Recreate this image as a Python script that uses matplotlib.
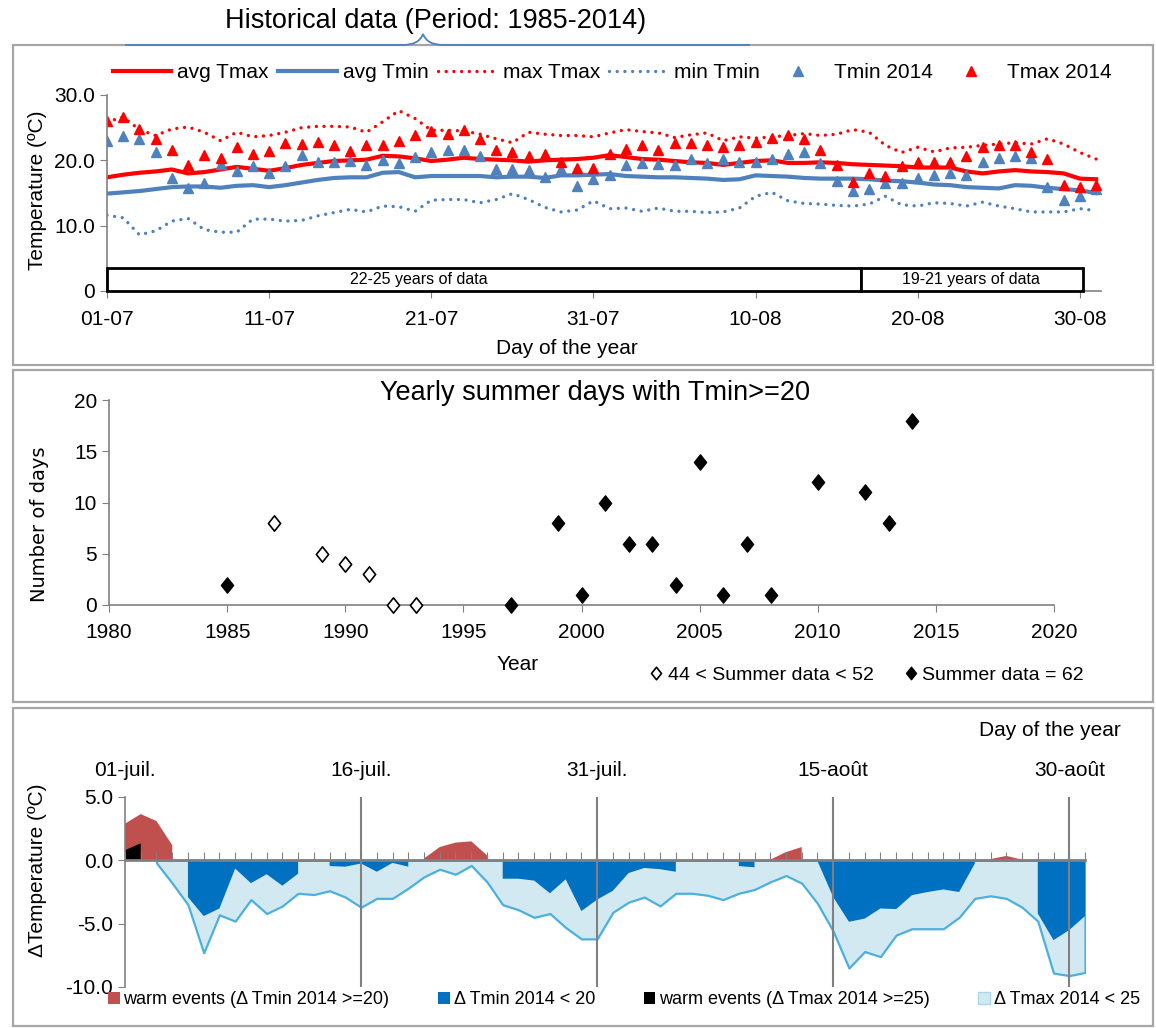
import numpy as np
import matplotlib
matplotlib.use('Agg')
import matplotlib.pyplot as plt
from matplotlib.patches import Rectangle, Patch, PathPatch
from matplotlib.path import Path
from matplotlib.lines import Line2D

plt.rcParams['font.family'] = ['Liberation Sans', 'DejaVu Sans']

# ---------------- data: top panel (days since 1 July) ----------------
days = np.arange(62)
top_tick_days = [0, 10, 20, 30, 40, 50, 60]
top_tick_labels = ['01-07', '11-07', '21-07', '31-07', '10-08', '20-08', '30-08']

avg_tmax = [17.4, 17.8, 18.1, 18.3, 18.6, 18.0, 18.2, 18.6, 19.0, 18.7,
            18.4, 18.8, 19.3, 19.6, 19.9, 20.0, 20.1, 20.7, 20.6, 20.3,
            19.9, 20.1, 20.4, 20.2, 20.1, 20.0, 19.8, 20.0, 20.1, 20.2,
            20.4, 20.8, 20.5, 20.2, 20.1, 19.9, 19.7, 19.6, 19.3, 19.6,
            19.9, 20.0, 19.6, 19.6, 19.7, 19.6, 19.4, 19.3, 19.2, 19.1,
            18.9, 18.9, 18.9, 18.3, 18.0, 18.3, 18.5, 18.3, 18.2, 18.0,
            17.2, 17.1]
avg_tmin = [14.9, 15.1, 15.3, 15.6, 15.9, 16.0, 16.0, 15.8, 16.1, 16.2,
            15.9, 16.2, 16.6, 17.0, 17.3, 17.4, 17.4, 18.1, 18.2, 17.4,
            17.6, 17.6, 17.6, 17.6, 17.4, 17.5, 17.5, 17.3, 17.7, 17.7,
            17.8, 17.9, 17.6, 17.5, 17.4, 17.4, 17.3, 17.2, 17.0, 17.1,
            17.7, 17.6, 17.5, 17.3, 17.2, 17.2, 17.2, 17.1, 16.9, 16.8,
            16.6, 16.3, 16.2, 15.9, 15.8, 15.7, 16.2, 16.1, 15.8, 15.6,
            15.4, 15.0]
max_tmax = [25.9, 26.6, 24.7, 23.8, 24.8, 25.1, 24.3, 23.0, 24.3, 23.6,
            23.8, 24.3, 25.0, 25.2, 25.2, 25.1, 24.3, 25.9, 27.6, 26.4,
            24.6, 24.6, 24.5, 24.0, 23.3, 22.7, 24.3, 24.0, 23.8, 23.8,
            23.6, 24.2, 24.7, 24.4, 24.2, 23.5, 23.9, 24.2, 23.0, 23.6,
            23.4, 23.6, 23.8, 24.1, 23.8, 24.0, 24.7, 24.3, 22.3, 21.2,
            22.0, 21.3, 21.9, 22.0, 22.3, 22.5, 22.7, 22.5, 23.3, 22.5,
            21.2, 20.2]
min_tmin = [11.6, 11.2, 8.6, 9.2, 10.7, 11.1, 9.4, 9.0, 9.0, 11.0,
            11.0, 10.7, 10.8, 11.5, 12.0, 12.5, 12.1, 13.0, 12.9, 12.2,
            13.9, 14.0, 14.0, 13.5, 14.0, 14.9, 14.0, 12.8, 12.1, 12.4,
            13.8, 12.6, 12.7, 12.2, 12.7, 12.2, 12.2, 12.0, 12.1, 12.7,
            14.5, 15.1, 13.8, 13.4, 13.3, 13.1, 13.0, 13.3, 14.5, 13.2,
            13.0, 13.5, 13.4, 13.0, 13.6, 13.0, 12.6, 12.1, 12.1, 12.1,
            12.6, 12.3]
tmin_2014 = [23.0, 23.8, 23.2, 21.3, 17.3, 15.7, 16.5, 19.5, 18.4, 19.2,
             18.1, 19.2, 20.8, 19.7, 19.7, 19.9, 19.3, 20.1, 19.6, 20.5,
             21.2, 21.6, 21.6, 20.6, 18.7, 18.7, 18.5, 17.5, 18.7, 16.1,
             17.1, 17.8, 19.3, 19.6, 19.5, 19.3, 20.2, 19.6, 20.2, 19.8,
             19.7, 20.2, 21.0, 21.3, 19.6, 16.9, 15.3, 15.6, 16.5, 16.5,
             17.3, 17.7, 18.0, 17.8, 19.8, 20.3, 20.6, 20.3, 15.9, 13.9,
             14.5, 15.6]
tmax_2014 = [26.0, 26.6, 24.8, 23.3, 21.6, 19.3, 20.8, 20.4, 22.1, 21.0,
             21.5, 22.7, 22.5, 22.8, 22.3, 21.5, 22.3, 22.3, 22.9, 23.9,
             24.5, 24.1, 24.7, 23.3, 21.6, 21.2, 20.7, 20.9, 19.7, 18.9,
             18.9, 21.0, 21.7, 22.3, 21.6, 22.7, 22.7, 22.4, 22.0, 22.4,
             22.8, 23.4, 23.9, 23.3, 21.6, 19.3, 16.7, 18.0, 17.6, 19.2,
             19.8, 19.7, 19.7, 20.7, 22.1, 22.3, 22.3, 21.3, 20.2, 16.2,
             15.9, 16.2]
coverage_start = [0, 46.5]
coverage_end = [46.5, 60.2]
coverage_text = ['22-25 years of data', '19-21 years of data']
coverage_text_x = [19.2, 53.3]

# ---------------- data: middle panel ----------------
years_partial = [1987, 1989, 1990, 1991, 1992, 1993]
count_partial = [8, 5, 4, 3, 0, 0]
years_full = [1985, 1997, 1999, 2000, 2001, 2002, 2003, 2004, 2005, 2006,
              2007, 2008, 2010, 2012, 2013, 2014]
count_full = [2, 0, 8, 1, 10, 6, 6, 2, 14, 1, 6, 1, 12, 11, 8, 18]

# ---------------- data: bottom panel ----------------
nan = np.nan
bot_tick_days = [0, 15, 30, 45, 60]
bot_tick_labels = ['01-juil.', '16-juil.', '31-juil.', '15-août', '30-août']
d_tmax_low = [nan, nan, -0.2, -1.8, -3.5, -7.3, -4.3, -4.8, -3.1, -4.2,
              -3.6, -2.6, -2.7, -2.4, -2.9, -3.7, -3.0, -3.0, -2.2, -1.3,
              -0.7, -1.1, -0.4, -1.7, -3.5, -3.9, -4.5, -4.2, -5.3, -6.2,
              -6.2, -4.1, -3.3, -2.9, -3.6, -2.6, -2.6, -2.75, -3.1, -2.6,
              -2.3, -1.7, -1.2, -1.8, -3.4, -5.6, -8.5, -7.2, -7.6, -5.9,
              -5.4, -5.4, -5.4, -4.5, -3.0, -2.8, -3.0, -3.7, -4.8, -8.9,
              -9.1, -8.85]
d_tmin_low = [nan, nan, nan, nan, -2.9, -4.4, -3.8, -0.65, -1.8, -1.1,
              -2.0, -1.05, nan, -0.45, -0.5, -0.25, -0.9, -0.2, -0.5, nan,
              nan, nan, nan, nan, -1.45, -1.45, -1.6, -2.6, -1.5, -4.0,
              -3.1, -2.4, -1.0, -0.6, -0.7, -0.9, nan, nan, nan, -0.45,
              -0.55, nan, nan, nan, -0.05, -2.9, -4.85, -4.6, -3.8, -3.85,
              -2.75, -2.5, -2.3, -2.5, -0.25, nan, nan, nan, -4.2, -6.3,
              -5.5, -4.4]
d_tmin_warm = [2.9, 3.65, 3.1, 1.2, nan, nan, nan, nan, nan, nan,
               nan, nan, nan, nan, nan, nan, nan, nan, nan, 0.15,
               1.05, 1.4, 1.5, 0.4, nan, nan, nan, nan, nan, nan,
               nan, nan, nan, nan, nan, nan, nan, nan, nan, nan,
               nan, 0.05, 0.65, 1.05, nan, nan, nan, nan, nan, nan,
               nan, nan, nan, nan, nan, 0.1, 0.35, 0.05, nan, nan,
               nan, nan]
d_tmax_warm = [0.8, 1.35] + [nan] * 60

# ---------------- figure ----------------
W, H = 1156, 1028
fig = plt.figure(figsize=(W / 100, H / 100), dpi=100)


def fx(px):
    return px / W


def fy(py):
    return 1 - py / H


GRAY = '#808080'
BOX = '#A6A6A6'
RED = '#FF0000'
BLUE = '#4F81BD'

# panel frames
for (x0, y0, x1, y1) in [(13, 45, 1153, 365), (13, 370, 1153, 702), (13, 708, 1153, 1026)]:
    fig.add_artist(Rectangle((fx(x0), fy(y1)), fx(x1) - fx(x0), fy(y0) - fy(y1),
                             transform=fig.transFigure, fill=False,
                             edgecolor=BOX, lw=1.6))

# brace under top title
bv = [(125, 45), (403, 45), (419, 45), (423, 34), (427, 45), (443, 45), (750, 45)]
bc = [Path.MOVETO, Path.LINETO, Path.CURVE3, Path.CURVE3, Path.CURVE3, Path.CURVE3, Path.LINETO]
fig.add_artist(PathPatch(Path([(fx(a), fy(b)) for a, b in bv], bc),
                         transform=fig.transFigure, fill=False,
                         edgecolor=BLUE, lw=1.3, zorder=5))
fig.text(fx(436), fy(21), 'Historical data (Period: 1985-2014)', ha='center',
         va='center', fontsize=19.5)

# ---- top panel ----
ax1 = fig.add_axes([fx(107), fy(291), fx(1101) - fx(107), (291 - 95) / H])
ax1.plot(days, avg_tmax, color=RED, lw=3, label='avg Tmax')
ax1.plot(days, avg_tmin, color=BLUE, lw=3, label='avg Tmin')
ax1.plot(days, max_tmax, color=RED, lw=2.4, ls=(0, (0.01, 2.3)),
         dash_capstyle='round', label='max Tmax')
ax1.plot(days, min_tmin, color=BLUE, lw=2.4, ls=(0, (0.01, 2.3)),
         dash_capstyle='round', label='min Tmin')
ax1.plot(days, tmin_2014, ls='none', marker='^', color=BLUE, ms=7, label='Tmin 2014')
ax1.plot(days, tmax_2014, ls='none', marker='^', color=RED, ms=7, label='Tmax 2014')
for s, e, t, tx in zip(coverage_start, coverage_end, coverage_text, coverage_text_x):
    ax1.add_patch(Rectangle((s, 0), e - s, 3.5, facecolor='white',
                            edgecolor='black', lw=2, zorder=3, clip_on=False))
    ax1.text(tx, 1.75, t, ha='center', va='center', fontsize=11.5, zorder=4)
ax1.set_xlim(0, 61.3)
ax1.set_ylim(0, 30)
ax1.set_yticks([0, 10, 20, 30], labels=['0', '10.0', '20.0', '30.0'])
ax1.set_xticks(top_tick_days, labels=top_tick_labels)
for sp in ['top', 'right']:
    ax1.spines[sp].set_visible(False)
for sp in ['left', 'bottom']:
    ax1.spines[sp].set_color(GRAY)
    ax1.spines[sp].set_linewidth(1.2)
ax1.tick_params(axis='both', colors=GRAY, labelcolor='black', labelsize=15, length=5)
ax1.tick_params(axis='x', pad=9)
fig.text(fx(567), fy(348), 'Day of the year', ha='center', va='center', fontsize=15)
fig.text(fx(38), fy(190), 'Temperature (ºC)', ha='center', va='center',
         rotation=90, fontsize=15)
fig.legend(*ax1.get_legend_handles_labels(), loc='center',
           bbox_to_anchor=(fx(612), fy(73)), ncol=6, frameon=False,
           fontsize=15, handlelength=2.8, handletextpad=0.3, columnspacing=0.45,
           numpoints=1)

# ---- middle panel ----
diamond = Path([(0, 1), (0.8, 0), (0, -1), (-0.8, 0), (0, 1)],
               [Path.MOVETO, Path.LINETO, Path.LINETO, Path.LINETO, Path.CLOSEPOLY])
ax2 = fig.add_axes([fx(109), fy(605), fx(1054) - fx(109), (605 - 400) / H])
ax2.plot(years_partial, count_partial, ls='none', marker=diamond, ms=11,
         mfc='white', mec='black', mew=1.2, clip_on=False, zorder=3)
ax2.plot(years_full, count_full, ls='none', marker=diamond, ms=11,
         mfc='black', mec='black', clip_on=False, zorder=3)
ax2.set_xlim(1980, 2020)
ax2.set_ylim(0, 20)
ax2.set_xticks(range(1980, 2021, 5))
ax2.set_yticks(range(0, 21, 5))
for sp in ['top', 'right']:
    ax2.spines[sp].set_visible(False)
for sp in ['left', 'bottom']:
    ax2.spines[sp].set_color(GRAY)
    ax2.spines[sp].set_linewidth(1.2)
ax2.tick_params(axis='both', colors=GRAY, labelcolor='black', labelsize=15, length=5)
ax2.tick_params(axis='x', pad=8)
for lab in ax2.get_xticklabels() + ax2.get_yticklabels():
    lab.set_fontfamily(['Liberation Sans Narrow', 'Liberation Sans'])
fig.text(fx(595), fy(393), 'Yearly summer days with Tmin>=20', ha='center',
         va='center', fontsize=19.5)
fig.text(fx(518), fy(665), 'Year', ha='center', va='center', fontsize=15,
         family=['Liberation Sans Narrow', 'Liberation Sans'])
fig.text(fx(40), fy(524), 'Number of days', ha='center', va='center',
         rotation=90, fontsize=14, family=['DejaVu Sans'])
mid_handles = [Line2D([], [], ls='none', marker=diamond, ms=9, mfc='white', mec='black', mew=1.2),
               Line2D([], [], ls='none', marker=diamond, ms=9, mfc='black', mec='black')]
fig.legend(mid_handles, ['44 < Summer data < 52', 'Summer data = 62'],
           loc='center', bbox_to_anchor=(fx(867), fy(675)), ncol=2,
           frameon=False, fontsize=14, handlelength=0.6, handletextpad=0.3,
           columnspacing=1.6)

# ---- bottom panel ----
ax3 = fig.add_axes([fx(125), fy(987), fx(1085) - fx(125), (987 - 797) / H])
LIGHT = '#D3E9F1'
LIGHT_EDGE = '#4BB0DD'
DARK = '#0070C0'
WARM = '#C0504D'
ax3.fill_between(days, 0, d_tmax_low, facecolor=LIGHT, edgecolor=LIGHT_EDGE,
                 lw=1.6, zorder=1)
ax3.fill_between(days, 0, d_tmin_low, facecolor=DARK, edgecolor='none', lw=0, zorder=1.2)
ax3.fill_between(days, 0, d_tmin_warm, facecolor=WARM, edgecolor='none', lw=0, zorder=1.3)
ax3.fill_between(days, 0, d_tmax_warm, facecolor='black', edgecolor='none', lw=0, zorder=1.4)
for d in bot_tick_days[1:]:
    ax3.axvline(d, color=GRAY, lw=1.5, zorder=2)
ax3.set_xlim(0, 61)
ax3.set_ylim(-10, 5)
ax3.set_yticks([-10, -5, 0, 5], labels=['-10.0', '-5.0', '0.0', '5.0'])
ax3.set_xticks(days)
ax3.spines['bottom'].set_position(('data', 0))
for sp in ['top', 'right']:
    ax3.spines[sp].set_visible(False)
for sp in ['left', 'bottom']:
    ax3.spines[sp].set_color(GRAY)
    ax3.spines[sp].set_linewidth(2)
ax3.spines['left'].set_linewidth(1.2)
ax3.tick_params(axis='x', direction='in', length=6, colors=GRAY, labelbottom=False)
ax3.tick_params(axis='y', colors=GRAY, labelcolor='black', labelsize=15, length=5)
sec = ax3.secondary_xaxis('top')
sec.set_xticks(bot_tick_days, labels=bot_tick_labels)
sec.tick_params(length=0, pad=12, labelsize=15)
sec.spines['top'].set_visible(False)
fig.text(fx(1050), fy(730), 'Day of the year', ha='center', va='center', fontsize=15)
fig.text(fx(38), fy(870), 'ΔTemperature (ºC)', ha='center', va='center',
         rotation=90, fontsize=15)
bot_handles = [Patch(facecolor=WARM), Patch(facecolor=DARK), Patch(facecolor='black'),
               Patch(facecolor=LIGHT, edgecolor='#A8D8EE')]
fig.legend(bot_handles, ['warm events (Δ Tmin 2014 >=20)', 'Δ Tmin 2014 < 20',
                         'warm events (Δ Tmax 2014 >=25)', 'Δ Tmax 2014 < 25'],
           loc='center', bbox_to_anchor=(fx(624), fy(1000)), ncol=4,
           frameon=False, fontsize=13, handlelength=0.65, handleheight=0.65,
           handletextpad=0.2, columnspacing=2.7)

fig.savefig('out.png', dpi=100)
